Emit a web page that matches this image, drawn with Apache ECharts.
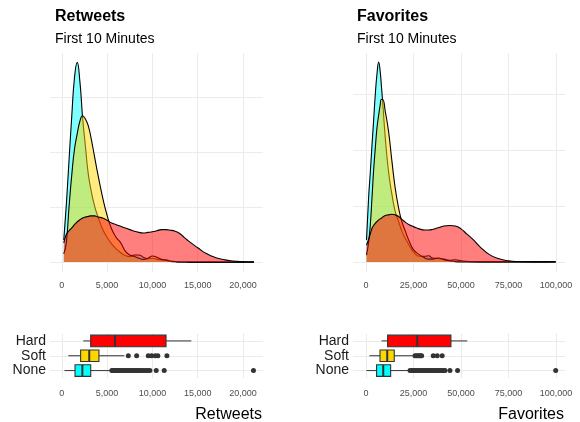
<!DOCTYPE html>
<html><head><meta charset="utf-8">
<script src="https://cdn.jsdelivr.net/npm/echarts@6/dist/echarts.min.js"></script>
<style>html,body{margin:0;padding:0;background:#fff}#c{width:580px;height:422px}</style>
</head><body><div id="c"></div>
<script>
// ---------- data ----------
const groups = ['None', 'Soft', 'Hard'];
const groupColors = ['#00FFFF', '#FFD700', '#FF0000'];

// density curves (scaled density, one gridline step = 1)
const rtX = [220, 500, 800, 1100, 1400, 1700, 2000, 2300, 2600, 2900, 3200, 3600, 4000, 4500, 5000, 5500, 6000, 6500, 7000, 7500, 8000, 8500, 9000, 9500, 10000, 10500, 11000, 11500, 12000, 12500, 13000, 13500, 14000, 15000, 16000, 17000, 18000, 19000, 20000, 21200];
const rtNone = [0.40, 1.04, 1.85, 2.65, 3.35, 3.63, 3.28, 2.62, 2.12, 1.63, 1.33, 1.03, 0.82, 0.60, 0.45, 0.33, 0.24, 0.17, 0.12, 0.10, 0.13, 0.13, 0.09, 0.06, 0.07, 0.05, 0.04, 0.03, 0.01, 0.005, 0.003, 0.001, 0, 0, 0, 0, 0, 0, 0, 0.005];
const rtSoft = [0.15, 0.35, 1.00, 1.58, 2.05, 2.33, 2.56, 2.66, 2.60, 2.49, 2.28, 1.93, 1.58, 1.18, 0.85, 0.60, 0.45, 0.35, 0.20, 0.13, 0.10, 0.07, 0.05, 0.07, 0.11, 0.09, 0.05, 0.04, 0.02, 0.01, 0.003, 0.001, 0, 0, 0, 0, 0, 0, 0, 0];
const rtHard = [0.35, 0.50, 0.57, 0.62, 0.68, 0.73, 0.77, 0.80, 0.82, 0.83, 0.84, 0.84, 0.82, 0.80, 0.76, 0.71, 0.68, 0.65, 0.62, 0.59, 0.56, 0.54, 0.53, 0.54, 0.55, 0.57, 0.59, 0.59, 0.58, 0.56, 0.52, 0.45, 0.38, 0.26, 0.15, 0.08, 0.04, 0.02, 0.005, 0.001];

const favX = [300, 1400, 2300, 3200, 4000, 4900, 5800, 6700, 7500, 8100, 8800, 10200, 11900, 13700, 15400, 17200, 18900, 20700, 23000, 25000, 28000, 31000, 33000, 35000, 38000, 41000, 44000, 47000, 50000, 53000, 56000, 60000, 65000, 70000, 75000, 80000, 90000, 99800];
const favNone = [0.39, 1.14, 1.60, 2.09, 2.50, 2.98, 3.35, 3.57, 3.40, 3.16, 2.86, 2.21, 1.61, 1.20, 0.90, 0.72, 0.55, 0.42, 0.28, 0.18, 0.10, 0.10, 0.11, 0.07, 0.06, 0.05, 0.03, 0.04, 0.02, 0.01, 0.003, 0, 0, 0, 0, 0, 0, 0.003];
const favSoft = [0.12, 0.35, 0.66, 1.15, 1.61, 2.02, 2.39, 2.62, 2.80, 2.90, 2.90, 2.68, 2.33, 1.79, 1.32, 0.96, 0.72, 0.55, 0.35, 0.22, 0.13, 0.07, 0.05, 0.05, 0.07, 0.04, 0.02, 0.005, 0, 0, 0, 0, 0, 0, 0, 0, 0, 0];
const favHard = [0.30, 0.40, 0.50, 0.60, 0.65, 0.69, 0.72, 0.75, 0.77, 0.78, 0.80, 0.83, 0.84, 0.85, 0.84, 0.81, 0.76, 0.71, 0.66, 0.63, 0.59, 0.57, 0.57, 0.58, 0.61, 0.64, 0.65, 0.64, 0.59, 0.50, 0.41, 0.27, 0.13, 0.055, 0.02, 0.007, 0.001, 0];

// boxplots: [min whisker, Q1, median, Q3, max whisker]
const rtBoxNone = [300, 1460, 2270, 3190, 5350];
const rtBoxSoft = [720, 2080, 3030, 4100, 6900];
const rtBoxHard = [2370, 3190, 5870, 11500, 14300];
const rtOutNone = [5520, 5650, 5800, 5940, 6100, 6280, 6420, 6600, 6790, 6950, 7150, 7330, 7500, 7700, 7880, 8050, 8240, 8430, 8600, 8820, 9050, 9280, 9500, 9720, 10420, 11300, 21150];
const rtOutSoft = [7340, 8260, 9540, 9900, 10300, 10600, 11600];
const rtOutHard = [];

const favBoxNone = [300, 5600, 9100, 13000, 22300];
const favBoxSoft = [1800, 7400, 11200, 14900, 24900];
const favBoxHard = [8200, 11400, 27000, 44700, 53300];
const favOutNone = [23200, 24100, 25000, 25900, 26700, 27600, 28500, 29300, 30200, 31100, 32000, 32800, 33700, 34600, 35500, 36300, 37200, 38100, 39000, 39900, 40800, 41600, 44200, 48200, 99800];
const favOutSoft = [25800, 26500, 27300, 28100, 28700, 29300, 35400, 37500, 40100];
const favOutHard = [];

const rtTicks = [0, 5000, 10000, 15000, 20000];
const favTicks = [0, 25000, 50000, 75000, 100000];
const densityGrid = [0, 1, 2, 3];

// ---------- chart ----------
const FONT = '"Liberation Sans", Arial, Helvetica, sans-serif';
const GRID = '#EBEBEB';
const fmt = v => Number(v).toLocaleString('en-US');

function pairs(xs, ys) { return xs.map((x, i) => [x, ys[i]]); }

function densitySeries(xs, ys, gi, ci) {
  return {
    type: 'line', xAxisIndex: gi, yAxisIndex: gi, data: pairs(xs, ys),
    smooth: 0.5, showSymbol: false, symbol: 'none',
    lineStyle: { color: '#000', width: 1.1 },
    areaStyle: { color: groupColors[ci], opacity: 0.5, origin: 0 },
    silent: true, z: 2 + ci
  };
}

function renderBox(params, api) {
  const ci = api.value(0);
  const lo = api.coord([api.value(1), ci]);
  const q1 = api.coord([api.value(2), ci]);
  const md = api.coord([api.value(3), ci]);
  const q3 = api.coord([api.value(4), ci]);
  const hi = api.coord([api.value(5), ci]);
  const band = api.size([0, 1])[1];
  const h = band * 0.78;
  const y = md[1];
  return {
    type: 'group', children: [
      { type: 'line', shape: { x1: lo[0], y1: y, x2: q1[0], y2: y }, style: { stroke: '#333', lineWidth: 1 } },
      { type: 'line', shape: { x1: q3[0], y1: y, x2: hi[0], y2: y }, style: { stroke: '#333', lineWidth: 1 } },
      { type: 'rect', shape: { x: q1[0], y: y - h / 2, width: q3[0] - q1[0], height: h }, style: { fill: groupColors[ci], stroke: '#333', lineWidth: 1.1 } },
      { type: 'line', shape: { x1: md[0], y1: y - h / 2, x2: md[0], y2: y + h / 2 }, style: { stroke: '#333', lineWidth: 2 } }
    ]
  };
}

function boxSeries(boxes, gi) {
  return {
    type: 'custom', xAxisIndex: gi, yAxisIndex: gi,
    renderItem: renderBox,
    encode: { x: [1, 2, 3, 4, 5], y: 0 },
    data: boxes.map((b, i) => [i].concat(b)), silent: true, z: 3
  };
}

function outlierSeries(outs, gi) {
  const data = [];
  outs.forEach((arr, ci) => arr.forEach(v => data.push([v, ci])));
  return {
    type: 'scatter', xAxisIndex: gi, yAxisIndex: gi, data: data,
    symbolSize: 5, itemStyle: { color: '#333', opacity: 1 }, silent: true, z: 4
  };
}

function valueX(gi, min, max, ticks, margin) {
  return {
    gridIndex: gi, type: 'value', min: min, max: max,
    axisLine: { show: false }, axisTick: { show: false, customValues: ticks },
    axisLabel: { customValues: ticks, formatter: fmt, fontSize: 9, color: '#4D4D4D', margin: margin, fontFamily: FONT },
    splitLine: { show: true, lineStyle: { color: GRID, width: 1 } }
  };
}
function densityY(gi, min, max) {
  return {
    gridIndex: gi, type: 'value', min: min, max: max,
    axisLine: { show: false }, axisTick: { show: false, customValues: densityGrid },
    axisLabel: { show: false, customValues: densityGrid },
    splitLine: { show: true, lineStyle: { color: GRID, width: 1 } }
  };
}
function catY(gi) {
  return {
    gridIndex: gi, type: 'category', data: groups,
    axisLine: { show: false }, axisTick: { show: false, alignWithLabel: true },
    axisLabel: { fontSize: 14, color: '#1A1A1A', margin: 4, interval: 0, fontFamily: FONT },
    splitLine: { show: true, alignWithLabel: true, interval: 0, lineStyle: { color: GRID, width: 1 } }
  };
}

const chart = echarts.init(document.getElementById('c'), null, { renderer: 'canvas' });
chart.setOption({
  animation: false,
  backgroundColor: '#fff',
  textStyle: { fontFamily: FONT },
  title: [
    { text: 'Retweets', left: 55, top: 9, padding: 0, textStyle: { fontSize: 16, fontWeight: 'bold', color: '#000', fontFamily: FONT } },
    { text: 'First 10 Minutes', left: 55, top: 32, padding: 0, textStyle: { fontSize: 14, fontWeight: 'normal', color: '#000', fontFamily: FONT } },
    { text: 'Favorites', left: 357, top: 9, padding: 0, textStyle: { fontSize: 16, fontWeight: 'bold', color: '#000', fontFamily: FONT } },
    { text: 'First 10 Minutes', left: 357, top: 32, padding: 0, textStyle: { fontSize: 14, fontWeight: 'normal', color: '#000', fontFamily: FONT } },
    { text: 'Retweets', right: 318, top: 407, padding: 0, textStyle: { fontSize: 16, fontWeight: 'normal', color: '#000', fontFamily: FONT } },
    { text: 'Favorites', right: 16, top: 407, padding: 0, textStyle: { fontSize: 16, fontWeight: 'normal', color: '#000', fontFamily: FONT } }
  ],
  grid: [
    { left: 50, top: 53, width: 213, height: 219 },
    { left: 353, top: 53, width: 212, height: 219 },
    { left: 50, top: 333.5, width: 213, height: 44.5 },
    { left: 353, top: 333.5, width: 212, height: 44.5 }
  ],
  xAxis: [
    valueX(0, -1300, 22200, rtTicks, 9),
    valueX(1, -6800, 104700, favTicks, 9),
    valueX(2, -1300, 22200, rtTicks, 11),
    valueX(3, -6800, 104700, favTicks, 11)
  ],
  yAxis: [
    densityY(0, -0.18, 3.80),
    densityY(1, -0.18, 3.73),
    catY(2),
    catY(3)
  ],
  series: [
    densitySeries(rtX, rtNone, 0, 0),
    densitySeries(rtX, rtSoft, 0, 1),
    densitySeries(rtX, rtHard, 0, 2),
    densitySeries(favX, favNone, 1, 0),
    densitySeries(favX, favSoft, 1, 1),
    densitySeries(favX, favHard, 1, 2),
    boxSeries([rtBoxNone, rtBoxSoft, rtBoxHard], 2),
    outlierSeries([rtOutNone, rtOutSoft, rtOutHard], 2),
    boxSeries([favBoxNone, favBoxSoft, favBoxHard], 3),
    outlierSeries([favOutNone, favOutSoft, favOutHard], 3)
  ]
});
</script>
</body></html>
